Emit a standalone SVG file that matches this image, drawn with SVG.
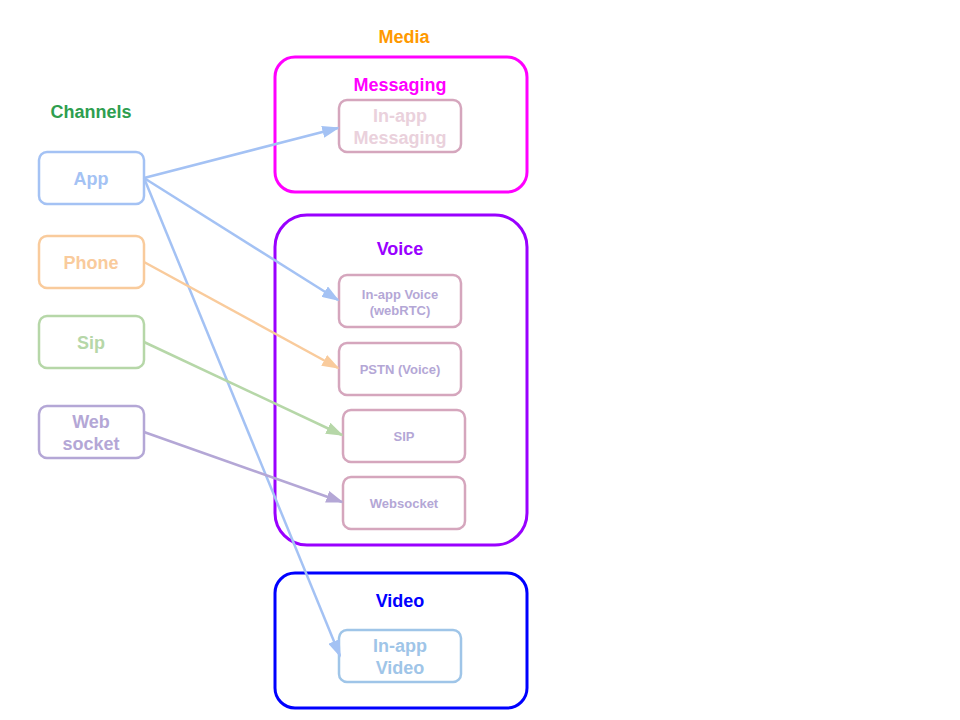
<svg xmlns="http://www.w3.org/2000/svg" width="960" height="720" viewBox="0 0 960 720">
<style>
text{font-family:"Liberation Sans",Arial,sans-serif;font-weight:bold;text-anchor:middle}
.lbl{font-size:18px}
.sm{font-size:13px}
.grp{fill:none;stroke-width:3}
.node{fill:#fff;stroke-width:2.5}
.c{fill:none;stroke-width:2.5}
</style>
<defs>
<marker id="ab" viewBox="0 0 10 7" refX="9" refY="3.5" markerWidth="7" markerHeight="4.9" markerUnits="strokeWidth" orient="auto"><path d="M0,0L10,3.5L0,7z" fill="#a4c2f4"/></marker>
<marker id="ao" viewBox="0 0 10 7" refX="9" refY="3.5" markerWidth="7" markerHeight="4.9" markerUnits="strokeWidth" orient="auto"><path d="M0,0L10,3.5L0,7z" fill="#f9cb9c"/></marker>
<marker id="ag" viewBox="0 0 10 7" refX="9" refY="3.5" markerWidth="7" markerHeight="4.9" markerUnits="strokeWidth" orient="auto"><path d="M0,0L10,3.5L0,7z" fill="#b6d7a8"/></marker>
<marker id="ap" viewBox="0 0 10 7" refX="9" refY="3.5" markerWidth="7" markerHeight="4.9" markerUnits="strokeWidth" orient="auto"><path d="M0,0L10,3.5L0,7z" fill="#b4a7d6"/></marker>
</defs>
<rect width="960" height="720" fill="#fff"/>
<text class="lbl" x="404" y="43" fill="#ff9900">Media</text>
<text class="lbl" x="91" y="118" fill="#2e9e4f">Channels</text>
<g id="messaging">
<rect class="grp" x="275" y="57" width="252" height="135" rx="20" stroke="#ff00ff"/>
<text class="lbl" x="400" y="91" fill="#ff00ff">Messaging</text>
</g>
<g id="voice">
<rect class="grp" x="275" y="215" width="252" height="330" rx="32" stroke="#9900ff"/>
<text class="lbl" x="400" y="255" fill="#9900ff">Voice</text>
</g>
<g id="video">
<rect class="grp" x="275" y="573" width="252" height="135" rx="20" stroke="#0000ff"/>
<text class="lbl" x="400" y="607" fill="#0000ff">Video</text>
</g>
<g id="app">
<rect class="node" x="39" y="152" width="105" height="52" rx="8" stroke="#a4c2f4"/>
<text class="lbl" x="91" y="185" fill="#a4c2f4">App</text>
</g>
<g id="phone">
<rect class="node" x="39" y="236" width="105" height="52" rx="8" stroke="#f9cb9c"/>
<text class="lbl" x="91" y="269" fill="#f9cb9c">Phone</text>
</g>
<g id="sip-ch">
<rect class="node" x="39" y="316" width="105" height="52" rx="8" stroke="#b6d7a8"/>
<text class="lbl" x="91" y="349" fill="#b6d7a8">Sip</text>
</g>
<g id="websocket-ch">
<rect class="node" x="39" y="406" width="105" height="52" rx="8" stroke="#b4a7d6"/>
<text class="lbl" x="91" y="428" fill="#b4a7d6">Web</text>
<text class="lbl" x="91" y="450" fill="#b4a7d6">socket</text>
</g>
<g id="inapp-messaging">
<rect class="node" x="339" y="100" width="122" height="52" rx="8" stroke="#d5a6bd"/>
<text class="lbl" x="400" y="122" fill="#ead1dc">In-app</text>
<text class="lbl" x="400" y="144" fill="#ead1dc">Messaging</text>
</g>
<g id="inapp-voice">
<rect class="node" x="339" y="275" width="122" height="52" rx="8" stroke="#d5a6bd"/>
<text class="sm" x="400" y="299" fill="#b4a7d6">In-app Voice</text>
<text class="sm" x="400" y="315" fill="#b4a7d6">(webRTC)</text>
</g>
<g id="pstn">
<rect class="node" x="339" y="343" width="122" height="52" rx="8" stroke="#d5a6bd"/>
<text class="sm" x="400" y="374" fill="#b4a7d6">PSTN (Voice)</text>
</g>
<g id="sip">
<rect class="node" x="343" y="410" width="122" height="52" rx="8" stroke="#d5a6bd"/>
<text class="sm" x="404" y="441" fill="#b4a7d6">SIP</text>
</g>
<g id="websocket">
<rect class="node" x="343" y="477" width="122" height="52" rx="8" stroke="#d5a6bd"/>
<text class="sm" x="404" y="508" fill="#b4a7d6">Websocket</text>
</g>
<g id="inapp-video">
<rect class="node" x="339" y="630" width="122" height="52" rx="8" stroke="#9fc5e8"/>
<text class="lbl" x="400" y="652" fill="#9fc5e8">In-app</text>
<text class="lbl" x="400" y="674" fill="#9fc5e8">Video</text>
</g>
<g id="connectors">
<line class="c" x1="144" y1="178" x2="338" y2="128" stroke="#a4c2f4" marker-end="url(#ab)"/>
<line class="c" x1="144" y1="178" x2="338" y2="300" stroke="#a4c2f4" marker-end="url(#ab)"/>
<line class="c" x1="144" y1="178" x2="340" y2="656" stroke="#a4c2f4" marker-end="url(#ab)"/>
<line class="c" x1="144" y1="262" x2="338" y2="368" stroke="#f9cb9c" marker-end="url(#ao)"/>
<line class="c" x1="144" y1="342" x2="342" y2="435" stroke="#b6d7a8" marker-end="url(#ag)"/>
<line class="c" x1="144" y1="432" x2="342" y2="502" stroke="#b4a7d6" marker-end="url(#ap)"/>
</g>
</svg>
